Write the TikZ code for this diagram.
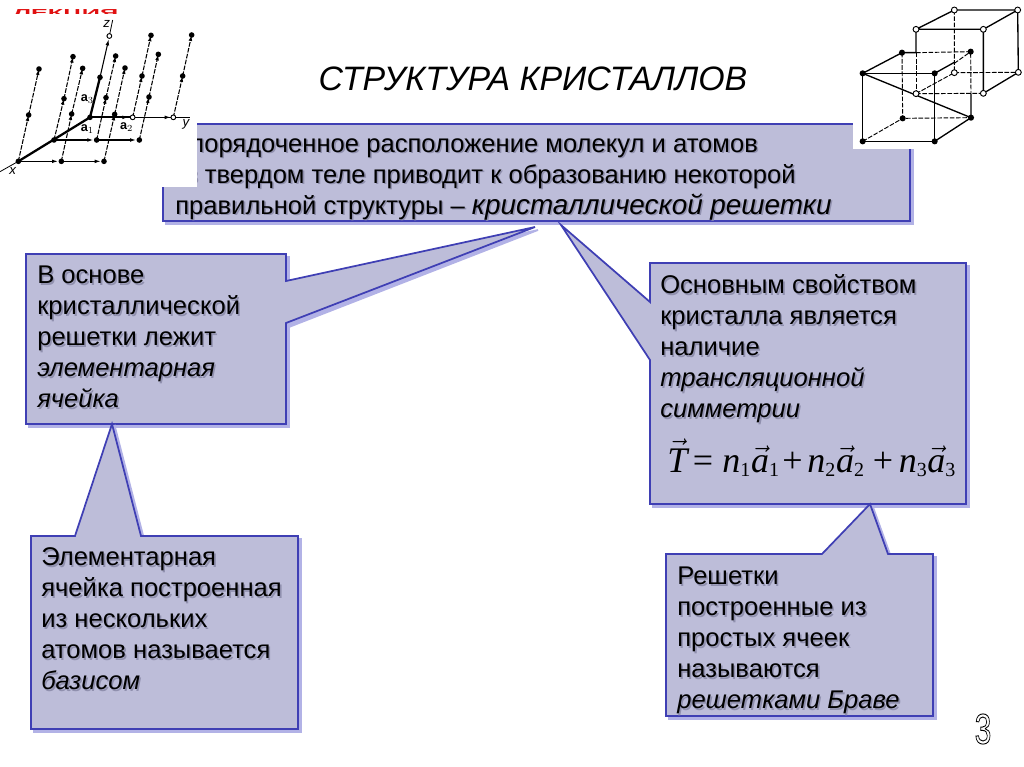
\documentclass[tikz,border=0pt]{standalone}
\usepackage{amsmath}
\usepackage{fontspec}
\setmainfont{Liberation Sans}
\newfontfamily\timesfont{Liberation Serif}
\usetikzlibrary{arrows.meta}

\definecolor{bubblefill}{HTML}{BDBDD9}
\definecolor{bubbleline}{HTML}{3F3FB4}
\definecolor{bubbleshade}{HTML}{B2B2E6}
\definecolor{textshade}{HTML}{9090AE}
\definecolor{topred}{HTML}{E01010}

\tikzset{
    bubble/.style={fill=bubblefill,draw=bubbleline,line width=1.3pt,line join=miter},
    bubbleback/.style={fill=bubbleshade,draw=bubbleshade,line width=1.3pt},
    boxtext/.style={anchor=north west,inner sep=0pt,align=left,font=\fontsize{19.2}{23.25}\selectfont},
    latline/.style={line width=.8pt,dash pattern=on 3.5pt off 1pt,-{Latex[length=4.5pt,width=2.8pt]}},
    axisline/.style={line width=.8pt,-{Latex[length=4.5pt,width=2.8pt]}},
    axislabel/.style={inner sep=0pt,font=\fontsize{10}{10}\selectfont\itshape},
    veclabel/.style={inner sep=0pt,font=\fontsize{9.5}{10}\selectfont\bfseries},
    cubeline/.style={line width=1pt},
    cubedash/.style={line width=.7pt,dash pattern=on 3.5pt off 1.2pt},
}
\newcommand{\shadetext}[4]{
    \node[boxtext,text=textshade] (#1shade) at (#2+1.6,#3+1.8) {\rule{0pt}{16pt}#4};
    \node[boxtext] (#1) at (#2,#3) {\rule{0pt}{16pt}#4};
}
\newcommand{\vecsym}[1]{\vec{\text{\timesfont\itshape #1}}}
\newcommand{\ital}[1]{\text{\timesfont\itshape #1}}
\newcommand{\rmsym}[1]{\text{\timesfont #1}}
\newcommand{\subnum}[1]{_{\text{\fontsize{15}{15}\selectfont\timesfont #1}}}

\begin{document}
\begin{tikzpicture}[x=.75pt,y=-.75pt]
    \useasboundingbox (0,0) rectangle (1024,767);

    \begin{scope}
    \clip (0,10) rectangle (140,14.5);
    \node[inner sep=0pt,anchor=base west,yscale=.4,text=topred,font=\fontsize{19}{19}\selectfont\bfseries] (lecture) at (13,17) {ЛЕКЦИЯ};
    \end{scope}

    \node[inner sep=0pt,font=\fontsize{25.4}{28}\selectfont\itshape] (title) at (533,79) {СТРУКТУРА КРИСТАЛЛОВ};

    \fill[bubbleback] (166,127)--(913,127)--(913,224)--(166,224)--cycle;
    \draw[bubble] (163,124)--(910,124)--(910,221)--(163,221)--cycle;

    \fill[bubbleback] (29,257)--(289,257)--(289,284)--(538,230)--(289,327)--(289,427)--(29,427)--cycle;
    \draw[bubble] (26,254)--(286,254)--(286,281)--(535,227)--(286,323)--(286,424)--(26,424)--cycle;

    \fill[bubbleback] (653,266)--(969,266)--(969,507)--(653,507)--(653,363)--(564,228)--(653,305)--cycle;
    \draw[bubble] (650,263)--(966,263)--(966,504)--(650,504)--(650,360)--(561,225)--(650,302)--cycle;

    \fill[bubbleback] (34,539)--(78,539)--(115,427)--(144,539)--(301,539)--(301,732)--(34,732)--cycle;
    \draw[bubble] (31,536)--(75,536)--(112,424)--(141,536)--(298,536)--(298,729)--(31,729)--cycle;

    \fill[bubbleback] (669,557)--(825,557)--(873,507)--(891,557)--(936,557)--(936,719)--(669,719)--cycle;
    \draw[bubble] (666,554)--(822,554)--(870,504)--(888,554)--(933,554)--(933,716)--(666,716)--cycle;

    \shadetext{lattice}{175}{130.5}{Упорядоченное расположение молекул и атомов\\\hspace{6.7pt}в твердом теле приводит к образованию некоторой\\правильной структуры -- {\fontsize{20.9}{23.25}\selectfont\itshape кристаллической решетки}}
    \shadetext{cell}{37}{261.7}{В основе\\кристаллической\\решетки лежит\\\textit{элементарная}\\\textit{ячейка}}
    \shadetext{property}{660}{271.7}{Основным свойством\\кристалла является\\наличие\\\textit{трансляционной}\\\textit{симметрии}}
    \shadetext{basis}{41}{543.7}{Элементарная\\ячейка построенная\\из нескольких\\атомов называется\\\textit{базисом}}
    \shadetext{bravais}{677}{562.7}{Решетки\\построенные из\\простых ячеек\\называются\\\textit{решетками Браве}}

    \node[inner sep=0pt,anchor=base west,font=\fontsize{27}{30}\selectfont] (formula) at (667,472) {$\vecsym{T}\,\rmsym{=}\;\ital{n}\subnum{1}\vecsym{a}\subnum{1}\mkern1.5mu\rmsym{+}\mkern2.5mu\ital{n}\subnum{2}\vecsym{a}\subnum{2}\mkern4.5mu\rmsym{+}\mkern3mu\ital{n}\subnum{3}\vecsym{a}\subnum{3}$};

    \node[inner sep=0pt,xscale=.7,font=\fontsize{32}{34}\selectfont] (pagenum) at (983,729) {\special{pdf:code 1 Tr 0.7 w}3\special{pdf:code 0 Tr}};

    \fill[white] (0,14.5) rectangle (197,187);
    \fill[white] (853,0) rectangle (1024,148.5);

    \begin{scope}[x=.25pt,y=-.25pt]
    \draw[line width=1.7pt] (270,352)--(55,484);
    \draw[line width=.6pt] (55,484)--(0,515);
    \draw[line width=1.7pt] (270,352)--(300,232);
    \draw[line width=1.3pt] (270,352)--(398,352);
    \draw[line width=.8pt] (398,352)--(570,352);
    \draw[line width=.6pt] (328,108)--(338,60);
    \draw[axisline] (270,352)--(385,352);
    \draw[axisline] (398,352)--(512,352);
    \draw[axisline] (300,232)--(326,118);
    \draw[axisline] (162,420)--(280,420);
    \draw[axisline] (290,420)--(408,420);
    \draw[axisline] (55,484)--(174,484);
    \draw[axisline] (184,484)--(302,484);
    \foreach \ax/\ay/\bx/\by/\cx/\cy in {398/352/426/228/453/106,520/352/548/228/575/105,162/420/192/296/219/170,290/420/318/293/347/168,418/420/447/291/475/163,55/484/86/345/117/207,184/484/215/342/248/205,312/484/344/343/375/204}{
        \draw[latline] (\ax,\ay)--(\bx,\by);
        \draw[latline] (\bx,\by)--(\cx,\cy);
        \fill (\bx,\by) circle (2.1pt);
        \fill (\cx,\cy) circle (2.1pt);
    }
    \foreach \ax/\ay in {270/352,162/420,290/420,418/420,55/484,184/484,312/484,300/232}{
        \fill (\ax,\ay) circle (2.1pt);
    }
    \foreach \ax/\ay in {328/108,398/352,520/352}{
        \filldraw[fill=white,draw=black,line width=.7pt] (\ax,\ay) circle (1.8pt);
    }
    \node[axislabel] (zlabel) at (320,72) {z};
    \node[axislabel] (ylabel) at (558,372) {y};
    \node[axislabel] (xlabel) at (38,514) {x};
    \node[veclabel] (aone) at (262,388) {a$_1$};
    \node[veclabel] (atwo) at (380,380) {a$_2$};
    \node[veclabel] (athree) at (262,298) {a$_3$};
    \end{scope}

    \begin{scope}[shift={(840,0)},x=.25pt,y=-.25pt]
    \draw[cubedash] (186,158)--(188,355)--(393,353);
    \draw[cubedash] (68,424)--(188,355);
    \draw[cubedash] (228,158)--(392,155)--(393,281);
    \draw[cubedash] (228,158)--(228,281);
    \draw[cubedash] (228,281)--(343,218);
    \draw[cubedash] (228,281)--(430,280);
    \draw[cubedash] (343,30)--(343,218)--(535,217);
    \draw[cubedash] (343,190)--(392,155);
    \draw[cubeline] (68,220)--(284,220)--(284,424)--(68,424)--cycle;
    \draw[cubeline] (68,220)--(186,158)--(228,158);
    \draw[cubeline] (284,220)--(343,187);
    \draw[cubeline] (284,424)--(393,353)--(393,281);
    \draw[cubeline] (68,220)--(393,353);
    \draw[cubeline] (228,158)--(228,88)--(430,88)--(430,280)--(535,217)--(533,30)--(343,30)--(228,88);
    \draw[cubeline] (430,88)--(533,30);
    \foreach \cx/\cy in {68/220,284/220,68/424,284/424,186/158,392/155,188/355,393/353}{
        \fill (\cx,\cy) circle (2.3pt);
    }
    \foreach \cx/\cy in {228/88,430/88,228/281,430/280,343/30,533/30,343/218,535/217}{
        \filldraw[fill=white,draw=black,line width=.7pt] (\cx,\cy) circle (2.2pt);
    }
    \end{scope}
\end{tikzpicture}
\end{document}
